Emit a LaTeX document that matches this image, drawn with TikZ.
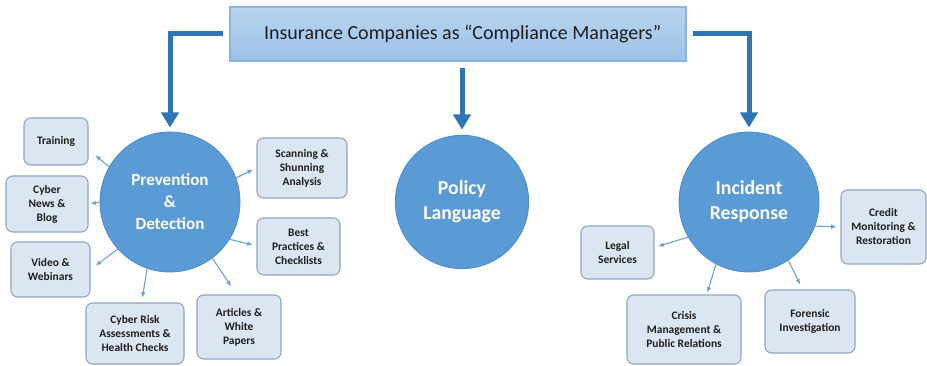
\documentclass[tikz,border=0pt]{standalone}
\usepackage{fontspec}
\setmainfont{Carlito}
\usetikzlibrary{arrows.meta}
\definecolor{bigblue}{HTML}{2E75B6}
\definecolor{circfill}{HTML}{5B9BD5}
\definecolor{circedge}{HTML}{4A8AC9}
\definecolor{boxfill}{HTML}{DCE6F2}
\definecolor{boxedge}{HTML}{8EA5C0}
\definecolor{topA}{HTML}{BAD4EF}
\definecolor{topB}{HTML}{9CC2E8}
\definecolor{topedge}{HTML}{8DB3DC}
\definecolor{txt}{HTML}{1E1E1E}
\definecolor{smallarrow}{HTML}{6A9FD4}
\begin{document}
\begin{tikzpicture}[x=0.75pt,y=-0.75pt,
 topbox/.style={draw=topedge, line width=0.8pt, top color=topA, bottom color=topB, minimum width=342pt, minimum height=40.5pt, font=\fontsize{15}{18}\selectfont, text=txt},
 bigcirc/.style={circle, fill=circfill, draw=circedge, line width=0.6pt, minimum size=105pt, inner sep=0pt, text=white, align=center},
 sbox/.style={draw=boxedge, fill=boxfill, rounded corners=5pt, line width=0.8pt, align=center, font=\bfseries\fontsize{8.6}{10.5}\selectfont, text=txt, inner sep=1pt},
 bigarrow/.style={draw=bigblue, line width=3.75pt, -{Triangle[width=13pt,length=11.5pt]}},
 smallarr/.style={draw=smallarrow, line width=0.8pt, -{Latex[length=4pt,width=3.5pt]}}
]
\fill[white] (0,0) rectangle (927,366);
\useasboundingbox (0,0) rectangle (927,366);

\node[topbox] (top) at (458,34) {\hspace*{7pt}Insurance Companies as “Compliance Managers”};

\node[bigcirc, font=\bfseries\fontsize{12.8}{16.5}\selectfont] (prev) at (170,202) {Prevention\\\&\\Detection};
\node[bigcirc, minimum size=100pt, font=\bfseries\fontsize{14.8}{18.75}\selectfont] (pol) at (462,202) {Policy\\Language};
\node[bigcirc, font=\bfseries\fontsize{14.8}{18.75}\selectfont] (inc) at (749,202) {Incident\\Response};

\node[sbox, minimum width=48pt, minimum height=35.25pt] (train) at (56,141.5) {Training};
\node[sbox, minimum width=61.5pt, minimum height=42pt] (news) at (47,204) {Cyber\\News \&\\Blog};
\node[sbox, minimum width=59.25pt, minimum height=41.25pt] (video) at (50.5,269.5) {Video \&\\Webinars};
\node[sbox, minimum width=73.5pt, minimum height=45.75pt] (risk) at (135,333.5) {Cyber Risk\\Assessments \&\\Health Checks};
\node[sbox, minimum width=63pt, minimum height=48pt] (art) at (239,327) {Articles \&\\White\\Papers};
\node[sbox, minimum width=67.5pt, minimum height=45pt] (scan) at (302,168) {Scanning \&\\Shunning\\Analysis};
\node[sbox, minimum width=62.25pt, minimum height=42.75pt] (best) at (298.5,246.5) {Best\\Practices \&\\Checklists};
\node[sbox, minimum width=54.75pt, minimum height=39.75pt] (legal) at (617.5,252.5) {Legal\\Services};
\node[sbox, minimum width=85.5pt, minimum height=51.75pt] (crisis) at (684,329.5) {Crisis\\Management \&\\Public Relations};
\node[sbox, minimum width=67.5pt, minimum height=47.25pt] (foren) at (810,321.5) {Forensic\\Investigation};
\node[sbox, minimum width=63.75pt, minimum height=55.5pt] (credit) at (883.5,227) {Credit\\Monitoring \&\\Restoration};

\draw[bigarrow, shorten <=5pt, shorten >=3pt] (top.west) -| (prev.north);
\draw[bigarrow, shorten <=5pt, shorten >=4pt] (top.south -| pol.north) -- (pol.north);
\draw[bigarrow, shorten <=5pt, shorten >=3pt] (top.east) -| (inc.north);

\draw[smallarr, shorten >=6.75pt] (prev.150) -- (train.-14);
\draw[smallarr, shorten >=1.5pt] (prev.180) -- (news.east);
\draw[smallarr, shorten >=5pt] (prev.222) -- (video.east);
\draw[smallarr, shorten >=3.75pt] (prev.251) -- (risk.78);
\draw[smallarr, shorten >=7.5pt] (prev.307) -- (art.94);
\draw[smallarr, shorten >=3pt] (prev.328) -- (best.179);
\draw[smallarr, shorten >=3pt] (prev.20) -- (scan.west);
\draw[smallarr, shorten >=3pt] (inc.210) -- (legal.8);
\draw[smallarr, shorten >=1.5pt] (inc.242) -- (crisis.57);
\draw[smallarr, shorten >=4.3pt] (inc.304) -- (foren.103);
\draw[smallarr, shorten >=3pt] (inc.340) -- (credit.west);
\end{tikzpicture}
\end{document}
